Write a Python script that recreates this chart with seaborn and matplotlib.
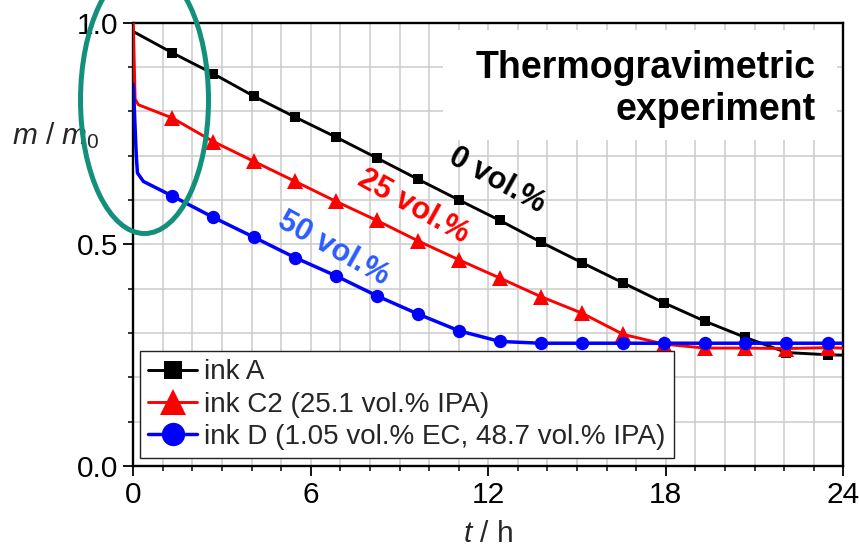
import matplotlib
matplotlib.use("Agg")
import matplotlib.pyplot as plt
import seaborn as sns
from matplotlib.patches import Ellipse, Rectangle
from matplotlib.lines import Line2D
from matplotlib.ticker import MultipleLocator

# ---------------- data ----------------
marker_t = [1.32, 2.70, 4.08, 5.47, 6.85, 8.23, 9.62, 11.01, 12.39, 13.78,
            15.16, 16.56, 17.94, 19.31, 20.69, 22.08, 23.47]

inkA_head_t = [0.0]
inkA_head_m = [0.980]
inkA_mark_m = [0.932, 0.885, 0.834, 0.787, 0.742, 0.695, 0.647, 0.600, 0.554,
               0.505, 0.459, 0.413, 0.368, 0.327, 0.290, 0.256, 0.251]
inkA_tail_t = [24.0]
inkA_tail_m = [0.250]

inkC2_head_t = [0.0, 0.06, 0.17]
inkC2_head_m = [1.000, 0.828, 0.815]
inkC2_mark_m = [0.785, 0.732, 0.687, 0.642, 0.597, 0.554, 0.508, 0.465, 0.424,
                0.382, 0.345, 0.297, 0.275, 0.266, 0.266, 0.265, 0.267]
inkC2_tail_t = [24.0]
inkC2_tail_m = [0.266]

inkD_head_t = [0.0, 0.10, 0.14, 0.34]
inkD_head_m = [0.860, 0.700, 0.661, 0.642]
inkD_mark_m = [0.609, 0.561, 0.516, 0.470, 0.429, 0.384, 0.343, 0.305, 0.281,
               0.277, 0.277, 0.277, 0.277, 0.277, 0.277, 0.277, 0.277]
inkD_tail_t = [24.0]
inkD_tail_m = [0.277]

legend_labels = ["ink A", "ink C2 (25.1 vol.% IPA)",
                 "ink D (1.05 vol.% EC, 48.7 vol.% IPA)"]
curve_labels = ["0 vol.%", "25 vol.%", "50 vol.%"]
x_ticks = [0, 6, 12, 18, 24]
y_ticks = [0.0, 0.5, 1.0]

# ---------------- style ----------------
sns.set_style("white")
plt.rcParams["font.family"] = ["Liberation Sans", "DejaVu Sans"]
plt.rcParams["mathtext.fontset"] = "custom"
plt.rcParams["mathtext.rm"] = "Liberation Sans"
plt.rcParams["mathtext.it"] = "Liberation Sans:italic"
plt.rcParams["mathtext.bf"] = "Liberation Sans:bold"

fig = plt.figure(figsize=(8.59, 5.5), dpi=100)
ax = fig.add_axes([0.1552, 0.1527, 0.8265, 0.806])

series = [
    (inkA_head_t, inkA_head_m, inkA_mark_m, inkA_tail_t, inkA_tail_m, "black", "s", 7.6, 2.1),
    (inkC2_head_t, inkC2_head_m, inkC2_mark_m, inkC2_tail_t, inkC2_tail_m, "#ff0000", "^", 11.0, 2.1),
    (inkD_head_t, inkD_head_m, inkD_mark_m, inkD_tail_t, inkD_tail_m, "#0000ff", "o", 9.6, 2.5),
]

handles = []
for (ht, hm, mm, tt, tm, col, mk, ms, lw), lab in zip(series, legend_labels):
    t = ht + marker_t + tt
    m = hm + mm + tm
    idx = list(range(len(ht), len(ht) + len(marker_t)))
    sns.lineplot(x=t, y=m, ax=ax, sort=False, estimator=None, color=col, linewidth=lw,
                 marker=mk, markersize=ms, markevery=idx, markeredgewidth=0,
                 markerfacecolor=col, zorder=4)
    handles.append(Line2D([], [], color=col, linewidth=lw, marker=mk, markersize=ms * 1.75,
                          markeredgewidth=0, markerfacecolor=col, label=lab))

ax.set_xlim(0, 24)
ax.set_ylim(0, 1.0)
ax.set_xticks(x_ticks)
ax.set_yticks(y_ticks)
ax.xaxis.set_minor_locator(MultipleLocator(1))
ax.yaxis.set_minor_locator(MultipleLocator(0.1))
ax.grid(which="both", color="#cccccc", lw=1.1)
ax.set_axisbelow(True)
ax.tick_params(which="major", direction="out", length=7, width=1.3, labelsize=21.5,
               pad=4, bottom=True, left=True, top=False, right=False, colors="black")
ax.tick_params(which="minor", direction="out", length=3.6, width=1.3,
               bottom=True, left=True, top=False, right=False)
for s in ax.spines.values():
    s.set_visible(True)
    s.set_color("black")
    s.set_linewidth(1.7)

ax.set_xlabel("$t$ / h", fontsize=21.5, labelpad=8)
ax.set_ylabel("$m$ / $m_0$", fontsize=21.5, rotation=0, ha="center", va="center")
ax.yaxis.set_label_coords(-0.109, 0.745)

# white panel behind the title text
ax.add_patch(Rectangle((0.436, 0.735), 0.555, 0.249, transform=ax.transAxes,
                       facecolor="white", edgecolor="none", zorder=1))
ax.text(0.9615, 0.9384, "Thermogravimetric\nexperiment", transform=ax.transAxes,
        ha="right", va="top", multialignment="right", fontsize=27,
        fontweight="bold", linespacing=1.2, color="black", zorder=3)

label_pos = [(12.3, 0.643), (9.45, 0.585), (6.75, 0.49)]
label_cols = ["black", "#ff0000", "#2a5bff"]
for lab, (x, y), c in zip(curve_labels, label_pos, label_cols):
    ax.text(x, y, lab, rotation=-29, rotation_mode="anchor", ha="center", va="center",
            fontsize=22, fontweight="bold", color=c, zorder=5)

leg = ax.legend(handles=handles, loc="lower left", bbox_to_anchor=(0.0094, 0.018),
                borderaxespad=0, fontsize=20, frameon=True, fancybox=False,
                framealpha=1, edgecolor="#222222", handlelength=1.75,
                handletextpad=0.25, labelspacing=0.22, borderpad=0.3)
leg.get_frame().set_linewidth(1.0)
leg.set_zorder(6)

# teal highlight ellipse (extends beyond the axes)
ell = Ellipse((1.445, 4.50), 1.28, 2.67, transform=fig.dpi_scale_trans, fill=False,
              edgecolor="#12907c", lw=3.6, zorder=10, clip_on=False)
fig.add_artist(ell)

fig.savefig("out.png", dpi=100)
